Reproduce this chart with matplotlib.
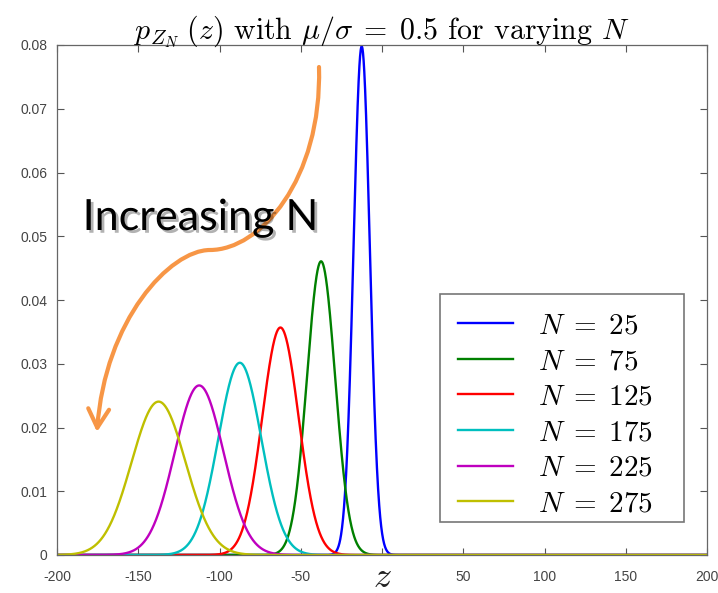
import numpy as np
import matplotlib
matplotlib.use("Agg")
import matplotlib.pyplot as plt
from matplotlib.path import Path
from matplotlib.patches import FancyArrowPatch, ArrowStyle, Rectangle
import matplotlib.patheffects as pe
from matplotlib.transforms import blended_transform_factory

plt.rcParams['mathtext.fontset'] = 'cm'

# Curve parameters (peak location and width of each density)
N_values = [25, 75, 125, 175, 225, 275]
means = [-12.5, -37.5, -62.5, -87.5, -112.5, -137.5]
stds = [5.0, 8.66, 11.18, 13.23, 15.0, 16.58]
colors = ['#0000FF', '#008000', '#FF0000', '#00BFBF', '#BF00BF', '#BFBF00']

xticks = [-200, -150, -100, -50, 0, 50, 100, 150, 200]
xtick_labels = ['-200', '-150', '-100', '-50', '', '50', '100', '150', '200']
yticks = [0, 0.01, 0.02, 0.03, 0.04, 0.05, 0.06, 0.07, 0.08]
ytick_labels = ['0', '0.01', '0.02', '0.03', '0.04', '0.05', '0.06', '0.07', '0.08']

fig = plt.figure(figsize=(7.18, 5.93), dpi=100)
ax = fig.add_axes([57/718, 38/593, 650/718, 510/593])

z = np.linspace(-200, 200, 4001)
for N, m, s, c in zip(N_values, means, stds, colors):
    pdf = np.exp(-0.5 * ((z - m) / s) ** 2) / (s * np.sqrt(2 * np.pi))
    ax.plot(z, pdf, color=c, lw=1.7, label=r'$N\;=\;%d$' % N)

ax.set_xlim(-200, 200)
ax.set_ylim(0, 0.08)
ax.set_xticks(xticks)
ax.set_xticklabels(xtick_labels)
ax.set_yticks(yticks)
ax.set_yticklabels(ytick_labels)
ax.tick_params(direction='in', top=True, right=True, length=5, width=0.8,
               colors='#555555', labelcolor='#444444', labelsize=10)
ax.tick_params(axis='y', pad=7)
ax.tick_params(axis='x', pad=11)
for lab in ax.get_xticklabels() + ax.get_yticklabels():
    lab.set_family('Liberation Sans')
for sp in ax.spines.values():
    sp.set_color('#666666')
    sp.set_linewidth(0.9)

ax.set_title(r'$p_{Z_N}\;(z)$ with $\mu/\sigma\;=\;0.5$ for varying $N$',
             fontsize=21.5, pad=4, family='cmr10')

trans = blended_transform_factory(ax.transData, ax.transAxes)
ax.text(0, -0.063, r'$z$', transform=trans, ha='center', va='baseline',
        fontsize=26, color='#222222')

# Axes-fraction helper for decorations placed by pixel position
def af(px, py):
    return ((px - 57) / 650, (555 - py) / 510)

# Legend box (drawn separately so its right padding matches)
bx, by = af(440, 522)
box = Rectangle((bx, by), 244 / 650, 228 / 510, transform=ax.transAxes,
                facecolor='white', edgecolor='#777777', lw=1.2, zorder=4.5)
ax.add_patch(box)

leg = ax.legend(loc='upper left', bbox_to_anchor=af(440, 294), fontsize=21,
                frameon=False, handlelength=1.9, handletextpad=0.85,
                labelspacing=0.26, borderpad=0.6, borderaxespad=0)
leg.set_zorder(5)

# Annotation arrow
verts = [af(319, 67), af(322, 180), af(260, 250), af(210, 250),
         af(170, 250), af(105, 320), af(97, 432)]
codes = [Path.MOVETO, Path.CURVE4, Path.CURVE4, Path.CURVE4,
         Path.CURVE4, Path.CURVE4, Path.CURVE4]
arrow = FancyArrowPatch(path=Path(verts, codes), transform=ax.transAxes,
                        arrowstyle=ArrowStyle('->', head_length=0.9, head_width=0.5),
                        mutation_scale=15, color='#F79646', lw=3, zorder=5)
ax.add_patch(arrow)

tx, ty = af(200, 218)
ax.text(tx, ty, 'Increasing N', transform=ax.transAxes, ha='center', va='center',
        fontsize=31, family='Lato', color='black', zorder=6,
        path_effects=[pe.SimplePatchShadow(offset=(2, -2), shadow_rgbFace='#000000', alpha=0.3),
                      pe.Normal()])

fig.savefig('out.png', dpi=100)
